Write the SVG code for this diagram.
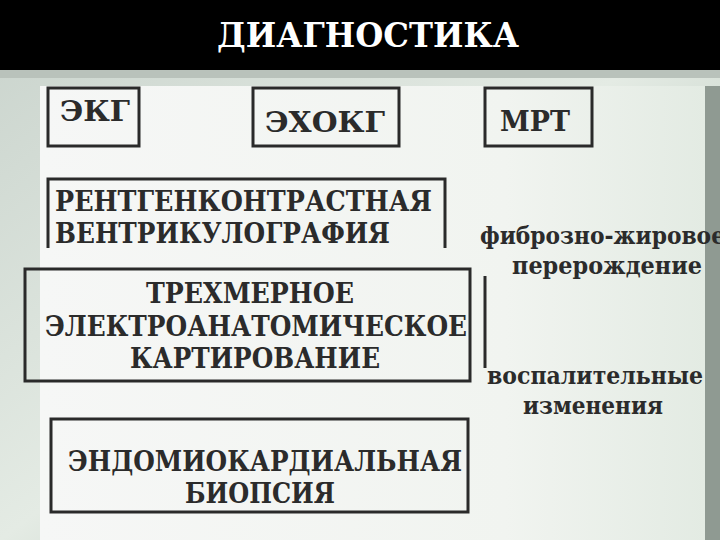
<svg xmlns="http://www.w3.org/2000/svg" width="720" height="540" viewBox="0 0 720 540">
<defs>
<linearGradient id="bg" x1="0" y1="0" x2="1" y2="1">
<stop offset="0" stop-color="#c9d3cc"/><stop offset="0.5" stop-color="#e4ebe4"/><stop offset="1" stop-color="#9fb3a4"/>
</linearGradient>
<linearGradient id="panel" x1="0" y1="0" x2="1" y2="0">
<stop offset="0" stop-color="#f6f7f6"/><stop offset="0.7" stop-color="#f1f4f0"/><stop offset="1" stop-color="#e3ebe3"/>
</linearGradient>
<style>
.b{fill:none;stroke:#2a2a2a;stroke-width:3}
.t{font-family:"DejaVu Serif","Liberation Serif",serif;font-weight:bold;fill:#2b2b2b;font-size:28px}
.s{font-family:"DejaVu Serif","Liberation Serif",serif;font-weight:bold;fill:#2b2b2b;font-size:25px}
</style>
</defs>
<rect width="720" height="540" fill="url(#bg)"/>
<rect x="0" y="70" width="720" height="8" fill="#b9c2bb"/>
<rect x="40" y="86" width="665" height="454" fill="url(#panel)"/>
<rect x="705" y="86" width="15" height="454" fill="#8f9a92"/>
<rect x="0" y="0" width="720" height="70" fill="#000"/>
<text x="368" y="47" text-anchor="middle" font-family="DejaVu Serif,Liberation Serif,serif" font-weight="bold" font-size="34" fill="#fff" textLength="302" lengthAdjust="spacingAndGlyphs">ДИАГНОСТИКА</text>
<g id="ekg"><rect class="b" x="48" y="88" width="91" height="58"/><text class="t" x="60" y="121" textLength="70" lengthAdjust="spacingAndGlyphs">ЭКГ</text></g>
<g id="echo"><rect class="b" x="253" y="88" width="146" height="58"/><text class="t" x="265" y="132" textLength="120" lengthAdjust="spacingAndGlyphs">ЭХОКГ</text></g>
<g id="mrt"><rect class="b" x="485" y="88" width="107" height="58"/><text class="t" x="500" y="131" textLength="70" lengthAdjust="spacingAndGlyphs">МРТ</text></g>
<g id="rentgen"><path class="b" d="M48 248 V179 H445 V248"/><text class="t" x="55" y="211" textLength="377" lengthAdjust="spacingAndGlyphs">РЕНТГЕНКОНТРАСТНАЯ</text><text class="t" x="55" y="243" textLength="335" lengthAdjust="spacingAndGlyphs">ВЕНТРИКУЛОГРАФИЯ</text></g>
<g id="three"><rect class="b" x="25" y="269" width="445" height="112"/><text class="t" x="250" y="303" text-anchor="middle" textLength="208" lengthAdjust="spacingAndGlyphs">ТРЕХМЕРНОЕ</text><text class="t" x="256" y="336" text-anchor="middle" textLength="422" lengthAdjust="spacingAndGlyphs">ЭЛЕКТРОАНАТОМИЧЕСКОЕ</text><text class="t" x="255" y="368" text-anchor="middle" textLength="250" lengthAdjust="spacingAndGlyphs">КАРТИРОВАНИЕ</text></g>
<g id="bio"><rect class="b" x="51" y="419" width="417" height="93"/><text class="t" x="265" y="471" text-anchor="middle" textLength="394" lengthAdjust="spacingAndGlyphs">ЭНДОМИОКАРДИАЛЬНАЯ</text><text class="t" x="260" y="503" text-anchor="middle" textLength="150" lengthAdjust="spacingAndGlyphs">БИОПСИЯ</text></g>
<g id="mrt-notes"><text class="s" x="480" y="244" textLength="245" lengthAdjust="spacingAndGlyphs">фиброзно-жировое</text><text class="s" x="512" y="274" textLength="190" lengthAdjust="spacingAndGlyphs">перерождение</text><text class="s" x="487" y="384" textLength="216" lengthAdjust="spacingAndGlyphs">воспалительные</text><text class="s" x="523" y="414" textLength="140" lengthAdjust="spacingAndGlyphs">изменения</text></g>
<g id="connectors"><line x1="485" y1="276" x2="485" y2="368" stroke="#2a2a2a" stroke-width="3"/></g>
</svg>
